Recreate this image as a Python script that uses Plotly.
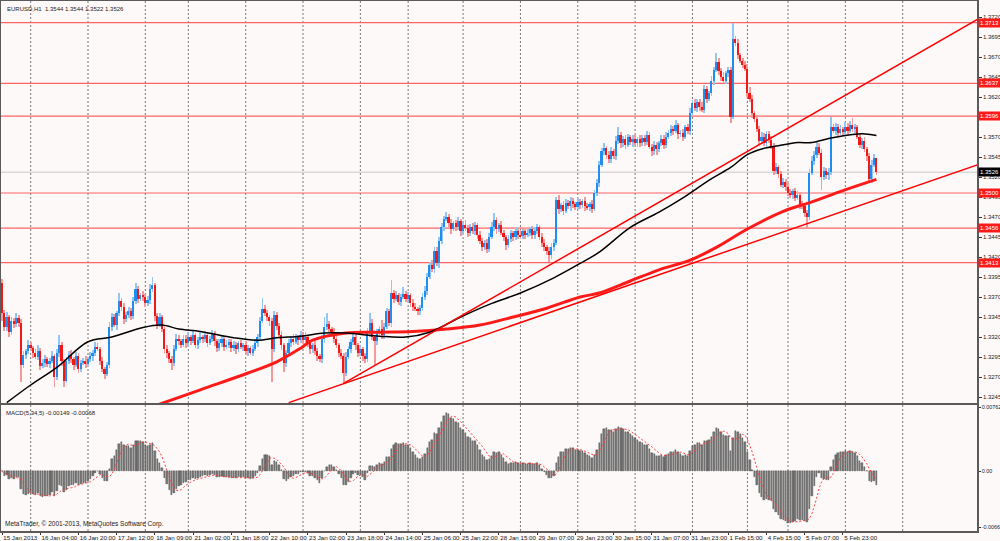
import numpy as np
import pandas as pd
import plotly.graph_objects as go

# EURUSD H1 closes, in pips (1/10000), 15 Jan 2013 12:00 -> 6 Feb 2013
close_pips = [
    13350, 13332, 13345, 13326, 13340, 13336, 13344, 13338, 13285, 13297,
    13302, 13310, 13306, 13300, 13295, 13303, 13284, 13288, 13292, 13286,
    13290, 13296, 13270, 13300, 13310, 13290, 13265, 13290, 13298, 13292,
    13285, 13296, 13280, 13288, 13290, 13286, 13292, 13296, 13300, 13308,
    13305, 13290, 13280, 13274, 13285, 13333, 13345, 13335, 13350, 13365,
    13358, 13342, 13348, 13352, 13346, 13365, 13380, 13368, 13372, 13370,
    13362, 13366, 13380, 13385, 13346, 13335, 13345, 13330, 13305, 13300,
    13292, 13288, 13305, 13318, 13315, 13310, 13318, 13312, 13320, 13315,
    13322, 13310, 13316, 13320, 13318, 13322, 13313, 13318, 13324, 13315,
    13306, 13312, 13318, 13308, 13310, 13314, 13306, 13310, 13305, 13312,
    13308, 13310, 13302, 13306, 13300, 13305, 13312, 13320, 13340, 13355,
    13350, 13345, 13340, 13305, 13348, 13334, 13322, 13310, 13287, 13300,
    13312, 13318, 13314, 13320, 13316, 13322, 13316, 13320, 13312, 13305,
    13310, 13302, 13296, 13292, 13318, 13332, 13336, 13330, 13326, 13318,
    13310, 13300, 13296, 13275, 13295, 13305, 13314, 13320, 13310, 13300,
    13305, 13296, 13292, 13325, 13338, 13320, 13315, 13325, 13330, 13322,
    13333, 13352, 13338, 13375, 13368, 13372, 13364, 13370, 13374, 13368,
    13372, 13362, 13358, 13355, 13352, 13356, 13370, 13378, 13395, 13410,
    13405, 13428, 13412, 13440, 13458, 13468, 13470, 13462, 13455, 13462,
    13458, 13465, 13452, 13460, 13456, 13450, 13458, 13452, 13460, 13448,
    13440, 13432, 13438, 13430, 13445, 13458, 13466, 13455, 13460, 13450,
    13445, 13435, 13442, 13450, 13445, 13452, 13448, 13446, 13452, 13448,
    13450, 13455, 13448, 13452, 13457, 13445, 13438, 13432, 13428, 13422,
    13432, 13438, 13491, 13480, 13485, 13478, 13488, 13484, 13490, 13486,
    13483, 13489, 13485, 13490, 13484, 13482, 13486, 13480, 13500, 13512,
    13535, 13552, 13556, 13548, 13542, 13552, 13546, 13565, 13572, 13562,
    13568, 13560, 13570, 13564, 13568, 13563, 13567, 13562, 13569, 13564,
    13572, 13558, 13552, 13560, 13555, 13562, 13568, 13560, 13570, 13575,
    13580, 13578, 13585, 13574, 13575, 13570, 13582, 13578, 13600, 13612,
    13606, 13614, 13608, 13604, 13630, 13618, 13625, 13640, 13654, 13664,
    13652, 13645, 13640, 13650, 13654, 13595, 13692, 13688, 13672, 13665,
    13660, 13655, 13625, 13618, 13600, 13592, 13580, 13565, 13570, 13562,
    13574, 13566, 13558, 13528, 13532, 13524, 13510, 13514, 13508, 13500,
    13497, 13502, 13494, 13498, 13486, 13484, 13475, 13470, 13525, 13540,
    13548, 13558, 13550, 13520, 13528, 13522, 13526, 13582, 13578, 13582,
    13575, 13580, 13576, 13583, 13578, 13585, 13580, 13582, 13570, 13560,
    13565, 13555, 13546, 13518, 13535, 13544, 13526,
]
first_open_pips = 13387

upper_wick = [
    5, 4, 6, 3, 5, 4, 6, 3, 4, 5,
    3, 6, 4, 3, 5, 7, 3, 4, 5, 3,
    4, 6, 3, 5, 12, 4, 3, 5, 4, 6,
    3, 5, 4, 3, 4, 6, 3, 5, 4, 6,
    4, 3, 5, 3, 4, 6, 5, 4, 3, 10,
    4, 5, 3, 6, 4, 5, 7, 4, 3, 6,
    4, 5, 6, 10, 3, 4, 5, 3, 4, 5,
    3, 4, 5, 6, 4, 3, 5, 4, 6, 3,
    5, 3, 4, 6, 3, 5, 4, 3, 5, 4,
    3, 5, 4, 3, 6, 4, 3, 5, 4, 3,
    4, 3, 5, 4, 3, 5, 6, 4, 5, 14,
    5, 4, 3, 4, 5, 3, 4, 5, 3, 4,
    5, 3, 6, 4, 3, 5, 4, 6, 3, 4,
    3, 5, 4, 3, 5, 13, 14, 4, 3, 5,
    4, 3, 5, 4, 6, 4, 3, 5, 4, 3,
    5, 3, 4, 6, 12, 4, 3, 5, 4, 11,
    5, 4, 3, 16, 4, 5, 3, 4, 9, 3,
    4, 3, 5, 4, 3, 4, 5, 6, 5, 4,
    6, 5, 4, 5, 4, 3, 6, 4, 5, 3,
    4, 5, 3, 4, 6, 4, 3, 5, 4, 3,
    5, 4, 3, 4, 5, 6, 9, 4, 3, 5,
    4, 3, 5, 4, 3, 5, 4, 6, 3, 4,
    5, 3, 4, 6, 4, 3, 5, 4, 3, 4,
    5, 4, 4, 6, 3, 5, 4, 3, 5, 4,
    3, 5, 4, 3, 5, 4, 3, 5, 4, 6,
    5, 4, 6, 3, 4, 5, 3, 6, 10, 4,
    3, 5, 4, 3, 5, 4, 3, 5, 4, 3,
    5, 4, 3, 5, 4, 3, 5, 4, 6, 4,
    5, 4, 6, 3, 4, 5, 3, 4, 6, 4,
    5, 3, 4, 6, 5, 4, 3, 6, 4, 11,
    5, 4, 6, 3, 4, 3, 21, 4, 5, 3,
    4, 5, 6, 8, 4, 3, 5, 4, 6, 5,
    3, 4, 5, 4, 6, 3, 4, 5, 3, 4,
    5, 3, 4, 5, 3, 4, 3, 4, 5, 6,
    4, 7, 4, 5, 4, 3, 5, 13, 4, 5,
    4, 5, 3, 6, 4, 5, 9, 4, 3, 5,
    4, 5, 3, 4, 6, 5, 0,
]

lower_wick = [
    10, 5, 4, 6, 3, 5, 4, 6, 21, 4,
    5, 3, 4, 6, 3, 4, 5, 3, 6, 4,
    5, 3, 13, 4, 5, 6, 7, 3, 4, 5,
    6, 3, 5, 4, 3, 5, 4, 3, 6, 4,
    3, 5, 4, 6, 3, 4, 5, 3, 6, 4,
    5, 6, 3, 4, 5, 3, 4, 6, 3, 5,
    4, 3, 5, 4, 6, 5, 3, 4, 5, 6,
    5, 9, 4, 3, 5, 4, 3, 6, 4, 5,
    3, 4, 5, 3, 6, 4, 5, 3, 4, 6,
    5, 3, 4, 6, 3, 4, 5, 3, 6, 4,
    3, 5, 4, 6, 3, 4, 3, 5, 4, 3,
    4, 5, 6, 41, 4, 5, 3, 6, 11, 4,
    3, 5, 4, 3, 6, 4, 5, 3, 4, 6,
    5, 4, 6, 3, 4, 5, 3, 4, 6, 5,
    4, 5, 3, 13, 4, 3, 5, 4, 6, 5,
    4, 6, 4, 3, 5, 4, 30, 5, 3, 4,
    5, 3, 4, 5, 6, 3, 4, 5, 3, 4,
    5, 4, 6, 3, 4, 5, 3, 4, 5, 3,
    4, 5, 3, 6, 4, 5, 3, 4, 6, 3,
    5, 4, 6, 3, 4, 5, 4, 3, 5, 6,
    4, 5, 3, 5, 4, 3, 5, 6, 4, 3,
    5, 6, 4, 3, 5, 4, 6, 3, 4, 5,
    3, 4, 5, 6, 3, 4, 5, 4, 6, 8,
    4, 5, 3, 6, 4, 5, 3, 4, 6, 5,
    4, 3, 5, 4, 6, 3, 4, 5, 3, 4,
    5, 3, 4, 6, 5, 4, 3, 5, 4, 6,
    4, 5, 3, 4, 6, 3, 5, 4, 3, 5,
    4, 3, 6, 5, 7, 4, 3, 5, 4, 3,
    4, 5, 3, 6, 4, 5, 3, 4, 5, 3,
    4, 5, 6, 3, 4, 5, 3, 4, 5, 3,
    4, 5, 3, 4, 5, 7, 3, 4, 5, 3,
    4, 3, 5, 4, 6, 3, 4, 5, 4, 3,
    5, 4, 3, 6, 4, 5, 3, 4, 5, 4,
    3, 5, 4, 3, 6, 4, 5, 14, 4, 3,
    5, 4, 3, 16, 4, 5, 6, 4, 3, 5,
    4, 3, 5, 4, 6, 3, 4, 5, 3, 4,
    5, 4, 6, 4, 5, 3, 4,
]

# moving averages (bar index, pips)
ma100_bars = [2, 12, 23, 36, 46, 59, 67, 74, 83, 97, 107, 115, 125, 135, 144, 158, 169, 179,
              192, 205, 217, 231, 242, 250, 263, 275, 284, 297, 305, 312, 318, 325, 333, 339,
              346, 353, 360, 366]
ma100_pips = [13238, 13260, 13282, 13314, 13320, 13332, 13335, 13330, 13327, 13319, 13316, 13319,
              13321, 13325, 13325, 13321, 13320, 13326, 13345, 13362, 13375, 13394, 13412, 13426,
              13457, 13476, 13492, 13518, 13532, 13548, 13555, 13559, 13563, 13563, 13568, 13572,
              13574, 13572]
ma200_bars = [64, 83, 103, 115, 125, 130, 144, 158, 172, 186, 200, 214, 228, 242, 250, 263, 275,
              288, 299, 312, 327, 339, 352, 366]
ma200_pips = [13234, 13254, 13275, 13289, 13306, 13316, 13325, 13326, 13327, 13330, 13335, 13345,
              13356, 13370, 13375, 13390, 13404, 13416, 13432, 13455, 13477, 13489, 13503, 13517]

# trend lines (bar index, price)
trend_a_bars = [120, 410]
trend_a_price = [1.3238, 1.3537]
trend_b_bars = [143, 410]
trend_b_price = [1.3262, 1.3720]

levels = [1.3713, 1.3637, 1.3596, 1.3500, 1.3456, 1.3413]
last_price = 1.3526

price_ticks = [1.3720, 1.3695, 1.3670, 1.3645, 1.3620, 1.3595, 1.3570, 1.3545, 1.3520, 1.3495,
               1.3470, 1.3445, 1.3420, 1.3395, 1.3370, 1.3345, 1.3320, 1.3295, 1.3270, 1.3245]
# the 1.3595 label sits under the 1.3596 level box on the original, so it stays blank
hidden_ticks = [1.3595]

label_bars = [0, 16, 32, 48, 64, 80, 96, 112, 128, 144, 160, 176, 192, 208, 224, 240, 256,
              272, 288, 304, 320, 336, 352]
time_labels = ['15 Jan 2013', '16 Jan 04:00', '16 Jan 20:00', '17 Jan 12:00', '18 Jan 09:00',
               '21 Jan 02:00', '21 Jan 18:00', '22 Jan 10:00', '23 Jan 02:00', '23 Jan 18:00',
               '24 Jan 14:00', '25 Jan 06:00', '25 Jan 22:00', '28 Jan 15:00', '29 Jan 07:00',
               '29 Jan 23:00', '30 Jan 15:00', '31 Jan 07:00', '31 Jan 23:00', '1 Feb 15:00',
               '4 Feb 15:00', '5 Feb 07:00', '5 Feb 23:00']
day_start_bars = [12, 36, 60, 78, 102, 126, 150, 170, 193, 217, 241, 265, 289, 312, 329, 353, 377]

# ---- build candles
close = np.array(close_pips) / 10000
opn = np.r_[first_open_pips / 10000, close[:-1]]
high = np.maximum(opn, close) + np.array(upper_wick) / 10000
low = np.minimum(opn, close) - np.array(lower_wick) / 10000
bull = close >= opn
idx = np.arange(len(close))

body_col = np.where(bull, '#1f8ef1', '#f21818')
wick_col = np.where(bull, '#93c6f5', '#f59a9a')

# MACD(5,34,5)
c = pd.Series(close)
macd = c.ewm(span=5, adjust=False).mean() - c.ewm(span=34, adjust=False).mean()
signal = macd.rolling(5, min_periods=1).mean()

x_range = [-0.42, 408.1]

fig = go.Figure()

fig.add_trace(go.Bar(x=idx, y=high - low, base=low, width=0.35,
                     marker=dict(color=wick_col, line=dict(width=0)),
                     xaxis='x', yaxis='y', hoverinfo='skip'))
fig.add_trace(go.Bar(x=idx, y=np.maximum(np.abs(close - opn), 0.00008),
                     base=np.minimum(opn, close), width=0.7,
                     marker=dict(color=body_col, line=dict(width=0)),
                     xaxis='x', yaxis='y'))

fig.add_trace(go.Scatter(x=ma200_bars, y=np.array(ma200_pips) / 10000, mode='lines',
                         line=dict(color='#ff1a1a', width=3, shape='spline'),
                         xaxis='x', yaxis='y'))
fig.add_trace(go.Scatter(x=ma100_bars, y=np.array(ma100_pips) / 10000, mode='lines',
                         line=dict(color='#000000', width=1.5, shape='spline'),
                         xaxis='x', yaxis='y'))
fig.add_trace(go.Scatter(x=trend_a_bars, y=trend_a_price, mode='lines',
                         line=dict(color='#ff0000', width=1.5), xaxis='x', yaxis='y'))
fig.add_trace(go.Scatter(x=trend_b_bars, y=trend_b_price, mode='lines',
                         line=dict(color='#ff0000', width=1.5), xaxis='x', yaxis='y'))

fig.add_trace(go.Bar(x=idx, y=macd, width=0.6,
                     marker=dict(color='#7a7a7a', line=dict(color='#3a3a3a', width=0.4)),
                     xaxis='x2', yaxis='y2'))
fig.add_trace(go.Scatter(x=idx, y=signal, mode='lines',
                         line=dict(color='#ff3b3b', width=1, dash='2px,2px'),
                         xaxis='x2', yaxis='y2'))

shapes = []
for d in day_start_bars:
    shapes.append(dict(type='line', xref='x', yref='paper', x0=d, x1=d, y0=0, y1=1,
                       line=dict(color='#6a6a6a', width=0.9, dash='2px,2px'), layer='below'))
for lv in levels:
    shapes.append(dict(type='line', xref='x domain', yref='y', x0=0, x1=1, y0=lv, y1=lv,
                       line=dict(color='#ff6464', width=1.2), layer='below'))
shapes.append(dict(type='line', xref='x domain', yref='y', x0=0, x1=1, y0=last_price, y1=last_price,
                   line=dict(color='#c8c8c8', width=1), layer='below'))

font_family = 'Liberation Sans'
annotations = []
for lv in levels:
    annotations.append(dict(xref='paper', x=1, xanchor='left', xshift=1, yref='y', y=lv,
                            text='%.4f' % lv, showarrow=False, bgcolor='#ff1a1a', borderpad=1,
                            font=dict(color='white', size=6, family=font_family)))
annotations.append(dict(xref='paper', x=1, xanchor='left', xshift=1, yref='y', y=last_price,
                        text='%.4f' % last_price, showarrow=False, bgcolor='#000000', borderpad=1,
                        font=dict(color='white', size=6, family=font_family)))
annotations.append(dict(xref='paper', x=0, xanchor='left', xshift=4, yref='paper', y=1,
                        yanchor='top', yshift=-3,
                        text='EURUSD,H1  %.4f %.4f %.4f %.4f' % (opn[-1], high[-1], low[-1], close[-1]),
                        showarrow=False, font=dict(color='#222', size=6, family=font_family)))
annotations.append(dict(xref='paper', x=0, xanchor='left', xshift=3, yref='y2 domain', y=1,
                        yanchor='top', yshift=-3, text='MACD(5,34,5) -0.00149 -0.00068',
                        showarrow=False, font=dict(color='#222', size=6, family=font_family)))
annotations.append(dict(xref='paper', x=0, xanchor='left', xshift=2, yref='y2 domain', y=0,
                        yanchor='bottom', yshift=1,
                        text='MetaTrader, © 2001-2013, MetaQuotes Software Corp.',
                        showarrow=False, font=dict(color='#222', size=6.5, family=font_family)))

axis_line = dict(showline=True, mirror=True, linecolor='#5a5a5a', linewidth=1.5,
                 showgrid=False, zeroline=False, automargin=False)

fig.update_layout(
    width=1000, height=541,
    margin=dict(l=1, r=23, t=1, b=10),
    paper_bgcolor='#fdf9f8', plot_bgcolor='#fdf9f8',
    showlegend=False, barmode='overlay', bargap=0,
    font=dict(family=font_family, size=6, color='#222'),
    xaxis=dict(domain=[0, 1], anchor='y', range=x_range, showticklabels=False, ticks='', **axis_line),
    yaxis=dict(domain=[0.2415, 1], anchor='x', side='right', range=[1.32375, 1.3740],
               tickvals=price_ticks,
               ticktext=['' if t in hidden_ticks else '%.4f' % t for t in price_ticks],
               ticks='outside', ticklen=3, tickcolor='#333', tickfont=dict(size=6), **axis_line),
    xaxis2=dict(domain=[0, 1], anchor='y2', range=x_range, tickvals=label_bars, ticktext=time_labels,
                ticks='outside', ticklen=2, tickcolor='#333', ticklabelposition='outside right',
                tickangle=0, tickfont=dict(size=6.2), **axis_line),
    yaxis2=dict(domain=[0, 0.2377], anchor='x2', side='right', range=[-0.0071, 0.0079],
                tickvals=[0.00762, 0, -0.00669], ticktext=['0.00762', '0.00', '-0.00669'],
                ticks='outside', ticklen=2, tickcolor='#333', tickfont=dict(size=5.4), **axis_line),
    shapes=shapes,
    annotations=annotations,
)

# page body has an 8px default margin; drop it so the figure sits at the window origin
fig.write_html('out.html', config={'displayModeBar': False},
               post_script="document.body.style.margin='0';")
